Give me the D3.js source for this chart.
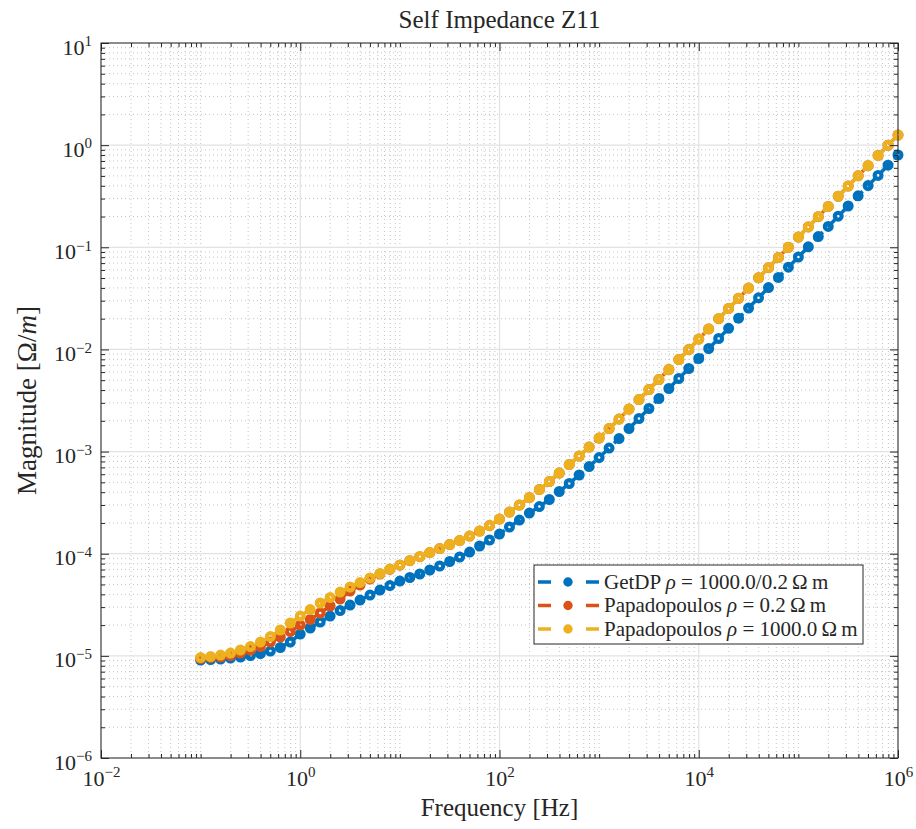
<!DOCTYPE html>
<html>
<head>
<meta charset="utf-8">
<script src="https://cdn.jsdelivr.net/npm/d3@7"></script>
<style>
  body { margin: 0; background: #fff; }
  text { font-family: "Liberation Serif", "Times New Roman", serif; fill: #262626; }
</style>
</head>
<body>
<svg id="svg_z11" width="916" height="829"></svg>
<script>

// data (10 points per decade, 0.1 Hz .. 1 MHz)
const freqs = [
  0.1, 0.1259, 0.1585, 0.1995, 0.2512, 0.3162, 0.3981, 0.5012, 0.631, 0.7943,
  1, 1.259, 1.585, 1.995, 2.512, 3.162, 3.981, 5.012, 6.31, 7.943,
  10, 12.59, 15.85, 19.95, 25.12, 31.62, 39.81, 50.12, 63.1, 79.43,
  100, 125.9, 158.5, 199.5, 251.2, 316.2, 398.1, 501.2, 631, 794.3,
  1000, 1259, 1585, 1995, 2512, 3162, 3981, 5012, 6310, 7943,
  1e4, 12590, 15850, 19950, 25120, 31620, 39810, 50120, 63100, 79430,
  1e5, 125900, 158500, 199500, 251200, 316200, 398100, 501200, 631000, 794300,
  1e6
];

const getdp = [
  9.11e-6, 9.21e-6, 9.31e-6, 9.53e-6, 9.74e-6, 1.008e-5, 1.054e-5, 1.115e-5, 1.207e-5, 1.366e-5,
  1.636e-5, 1.874e-5, 2.145e-5, 2.455e-5, 2.779e-5, 3.145e-5, 3.52e-5, 3.94e-5, 4.411e-5, 4.882e-5,
  5.403e-5, 5.848e-5, 6.33e-5, 6.927e-5, 7.579e-5, 8.39e-5, 9.284e-5, 1.039e-4, 1.19e-4, 1.362e-4,
  1.559e-4, 1.826e-4, 2.137e-4, 2.503e-4, 2.898e-4, 3.394e-4, 4.064e-4, 4.868e-4, 5.896e-4, 7.14e-4,
  8.746e-4, 1.083e-3, 1.342e-3, 1.681e-3, 2.107e-3, 2.64e-3, 3.307e-3, 4.144e-3, 5.192e-3, 6.505e-3,
  8.15e-3, 1.021e-2, 1.279e-2, 1.609e-2, 2.021e-2, 2.543e-2, 3.201e-2, 4.029e-2, 5.071e-2, 6.383e-2,
  8.034e-2, 0.1011, 0.1272, 0.1601, 0.2015, 0.2536, 0.3192, 0.4017, 0.5054, 0.6363,
  0.8007
];

const papaLow = [
  9.42e-6, 9.59e-6, 9.74e-6, 1.008e-5, 1.066e-5, 1.141e-5, 1.234e-5, 1.366e-5, 1.529e-5, 1.731e-5,
  2.004e-5, 2.269e-5, 2.627e-5, 3.076e-5, 3.602e-5, 4.313e-5, 4.938e-5, 5.654e-5, 6.33e-5, 7.036e-5,
  7.716e-5, 8.55e-5, 9.36e-5, 1.025e-4, 1.122e-4, 1.229e-4, 1.345e-4, 1.489e-4, 1.666e-4, 1.886e-4,
  2.183e-4, 2.557e-4, 2.994e-4, 3.546e-4, 4.247e-4, 5.086e-4, 6.162e-4, 7.463e-4, 9.036e-4, 1.107e-3,
  1.356e-3, 1.679e-3, 2.081e-3, 2.607e-3, 3.23e-3, 4.048e-3, 5.071e-3, 6.354e-3, 7.96e-3, 9.972e-3,
  1.264e-2, 1.589e-2, 2.001e-2, 2.517e-2, 3.169e-2, 3.988e-2, 5.02e-2, 6.319e-2, 7.954e-2, 0.1001,
  0.126, 0.1584, 0.1995, 0.2511, 0.316, 0.3977, 0.5005, 0.63, 0.7928, 0.9977,
  1.256
];

const papaHigh = [
  9.63e-6, 9.85e-6, 1.019e-5, 1.066e-5, 1.141e-5, 1.234e-5, 1.366e-5, 1.546e-5, 1.791e-5, 2.097e-5,
  2.455e-5, 2.842e-5, 3.292e-5, 3.725e-5, 4.217e-5, 4.721e-5, 5.224e-5, 5.783e-5, 6.4e-5, 7.084e-5,
  7.77e-5, 8.58e-5, 9.389e-5, 1.027e-4, 1.124e-4, 1.231e-4, 1.347e-4, 1.491e-4, 1.668e-4, 1.888e-4,
  2.186e-4, 2.56e-4, 2.997e-4, 3.55e-4, 4.251e-4, 5.091e-4, 6.168e-4, 7.47e-4, 9.045e-4, 1.108e-3,
  1.357e-3, 1.681e-3, 2.083e-3, 2.61e-3, 3.233e-3, 4.052e-3, 5.076e-3, 6.36e-3, 7.968e-3, 9.982e-3,
  1.265e-2, 1.591e-2, 2.003e-2, 2.52e-2, 3.172e-2, 3.992e-2, 5.025e-2, 6.325e-2, 7.962e-2, 0.1002,
  0.1261, 0.1586, 0.1997, 0.2513, 0.3163, 0.3981, 0.501, 0.6306, 0.7936, 0.9987,
  1.257
];

const seriesNames = ['getdp', 'papaLow', 'papaHigh'];
const seriesColors = ['#0072BD', '#D95319', '#EDB120'];
const legendLabels = [
  ['GetDP ', '\u03C1', ' = 1000.0/0.2\u2009\u03A9\u2009m'],
  ['Papadopoulos ', '\u03C1', ' = 0.2\u2009\u03A9\u2009m'],
  ['Papadopoulos ', '\u03C1', ' = 1000.0\u2009\u03A9\u2009m']
];

const xTickExps = [-2, 0, 2, 4, 6];
const yTickExps = [-6, -5, -4, -3, -2, -1, 0, 1];

function drawChart(_svg) {

  const svg = d3.select(`#svg_${_svg}`);
  const width = 916, height = 829,
    padLeft = 101, padRight = 18,
    padTop = 43, padBottom = 71;
  const innerWidth = width - padLeft - padRight;
  const innerHeight = height - padTop - padBottom;

  const x = d3.scaleLog().domain([1e-2, 1e6]).range([0, innerWidth]);
  const y = d3.scaleLog().domain([1e-6, 1e1]).range([innerHeight, 0]);

  const xMajor = xTickExps.map(e => Math.pow(10, e));
  const yMajor = yTickExps.map(e => Math.pow(10, e));
  const near = (a, b) => Math.abs(Math.log10(a) - Math.log10(b)) < 1e-6;
  const xMinor = x.ticks().filter(t => !xMajor.some(m => near(m, t)));
  const yMinor = y.ticks().filter(t => !yMajor.some(m => near(m, t)));

  const pad = svg.append('g')
    .attr('transform', `translate(${padLeft},${padTop})`);

  // grid
  const grid = pad.append('g').attr('class', 'grid');
  grid.selectAll('.xminor').data(xMinor).join('line')
    .attr('x1', d => x(d)).attr('x2', d => x(d))
    .attr('y1', 0).attr('y2', innerHeight)
    .attr('stroke', '#c4c4c4').attr('stroke-dasharray', '1,3');
  grid.selectAll('.yminor').data(yMinor).join('line')
    .attr('y1', d => y(d)).attr('y2', d => y(d))
    .attr('x1', 0).attr('x2', innerWidth)
    .attr('stroke', '#c4c4c4').attr('stroke-dasharray', '1,3');
  grid.selectAll('.xmajor').data(xMajor).join('line')
    .attr('x1', d => x(d)).attr('x2', d => x(d))
    .attr('y1', 0).attr('y2', innerHeight)
    .attr('stroke', '#e2e2e2').attr('stroke-width', 1.2);
  grid.selectAll('.ymajor').data(yMajor).join('line')
    .attr('y1', d => y(d)).attr('y2', d => y(d))
    .attr('x1', 0).attr('x2', innerWidth)
    .attr('stroke', '#e2e2e2').attr('stroke-width', 1.2);

  // series
  const seriesData = [getdp, papaLow, papaHigh];
  const line = d3.line()
    .x(d => x(d[0]))
    .y(d => y(d[1]));

  seriesData.forEach((vals, k) => {
    const pts = freqs.map((f, i) => [f, vals[i]]);
    const g = pad.append('g').attr('class', seriesNames[k]);
    g.append('path')
      .datum(pts)
      .attr('d', line)
      .attr('fill', 'none')
      .attr('stroke', seriesColors[k])
      .attr('stroke-width', 3.5)
      .attr('stroke-dasharray', '12,7');
    g.selectAll('circle').data(pts).join('circle')
      .attr('cx', d => x(d[0]))
      .attr('cy', d => y(d[1]))
      .attr('r', 3.4)
      .attr('fill', 'none')
      .attr('stroke', seriesColors[k])
      .attr('stroke-width', 4.2);
  });

  // axes (ticks pointing inward on all sides)
  const axisCol = '#262626';
  const styleAxis = sel => {
    sel.select('.domain').remove();
    sel.selectAll('.tick line').attr('stroke', axisCol);
  };
  const supLabel = (sel, anchor) => {
    sel.selectAll('.tick text').each(function (d) {
      const t = d3.select(this);
      t.text('').attr('text-anchor', anchor).style('font-size', '22px')
        .style('font-family', '"Liberation Serif", serif').attr('fill', axisCol);
      t.append('tspan').text('10');
      t.append('tspan').text(String(Math.round(Math.log10(d))).replace('-', '\u2212'))
        .style('font-size', '15px').attr('dy', '-0.55em');
    });
  };

  pad.append('g')
    .attr('transform', `translate(0,${innerHeight})`)
    .call(d3.axisBottom(x).tickValues(xMinor).tickSize(-4).tickFormat(''))
    .call(styleAxis);
  pad.append('g')
    .attr('transform', `translate(0,${innerHeight})`)
    .call(d3.axisBottom(x).tickValues(xMajor).tickSize(-8).tickPadding(12))
    .call(styleAxis)
    .call(s => supLabel(s, 'middle'));
  pad.append('g')
    .call(d3.axisTop(x).tickValues(xMinor).tickSize(-4).tickFormat(''))
    .call(styleAxis);
  pad.append('g')
    .call(d3.axisTop(x).tickValues(xMajor).tickSize(-8).tickFormat(''))
    .call(styleAxis);

  pad.append('g')
    .call(d3.axisLeft(y).tickValues(yMinor).tickSize(-4).tickFormat(''))
    .call(styleAxis);
  pad.append('g')
    .call(d3.axisLeft(y).tickValues(yMajor).tickSize(-8).tickPadding(9))
    .call(styleAxis)
    .call(s => supLabel(s, 'end'))
    .selectAll('.tick text').attr('dy', '0.5em');
  pad.append('g')
    .attr('transform', `translate(${innerWidth},0)`)
    .call(d3.axisRight(y).tickValues(yMinor).tickSize(-4).tickFormat(''))
    .call(styleAxis);
  pad.append('g')
    .attr('transform', `translate(${innerWidth},0)`)
    .call(d3.axisRight(y).tickValues(yMajor).tickSize(-8).tickFormat(''))
    .call(styleAxis);

  // box
  pad.append('rect')
    .attr('width', innerWidth).attr('height', innerHeight)
    .attr('fill', 'none').attr('stroke', axisCol).attr('stroke-width', 1);

  // title + axis labels
  svg.append('text')
    .attr('x', padLeft + innerWidth / 2).attr('y', 28)
    .attr('text-anchor', 'middle').style('font-size', '25px')
    .text('Self Impedance Z11');

  svg.append('text')
    .attr('x', padLeft + innerWidth / 2).attr('y', 816)
    .attr('text-anchor', 'middle').style('font-size', '25px')
    .text('Frequency [Hz]');

  const yl = svg.append('text')
    .attr('transform', `translate(36,${padTop + innerHeight / 2}) rotate(-90)`)
    .attr('text-anchor', 'middle').style('font-size', '27px');
  yl.append('tspan').text('Magnitude [\u03A9/');
  yl.append('tspan').text('m').style('font-style', 'italic');
  yl.append('tspan').text(']');

  // legend
  const lg = svg.append('g').attr('transform', 'translate(534,565)');
  lg.append('rect')
    .attr('width', 329).attr('height', 79)
    .attr('fill', '#fff').attr('stroke', axisCol).attr('stroke-width', 1);

  const rows = lg.selectAll('.row').data(seriesNames)
    .join('g')
    .attr('class', 'row')
    .attr('transform', (d, i) => `translate(0,${17 + i * 23.5})`);
  rows.append('line')
    .attr('x1', 4).attr('x2', 67).attr('y1', 0).attr('y2', 0)
    .attr('stroke', (d, i) => seriesColors[i])
    .attr('stroke-width', 3.5)
    .attr('stroke-dasharray', '13,35');
  rows.append('circle')
    .attr('cx', 34).attr('cy', 0).attr('r', 2.6)
    .attr('fill', (d, i) => seriesColors[i])
    .attr('stroke', (d, i) => seriesColors[i])
    .attr('stroke-width', 4.2);
  const lt = rows.append('text')
    .attr('x', 70).attr('y', 6.5)
    .style('font-size', '21px');
  lt.append('tspan').text((d, i) => legendLabels[i][0]);
  lt.append('tspan').text((d, i) => legendLabels[i][1]).style('font-style', 'italic');
  lt.append('tspan').text((d, i) => legendLabels[i][2]);
}

drawChart('z11');
</script>
</body>
</html>
